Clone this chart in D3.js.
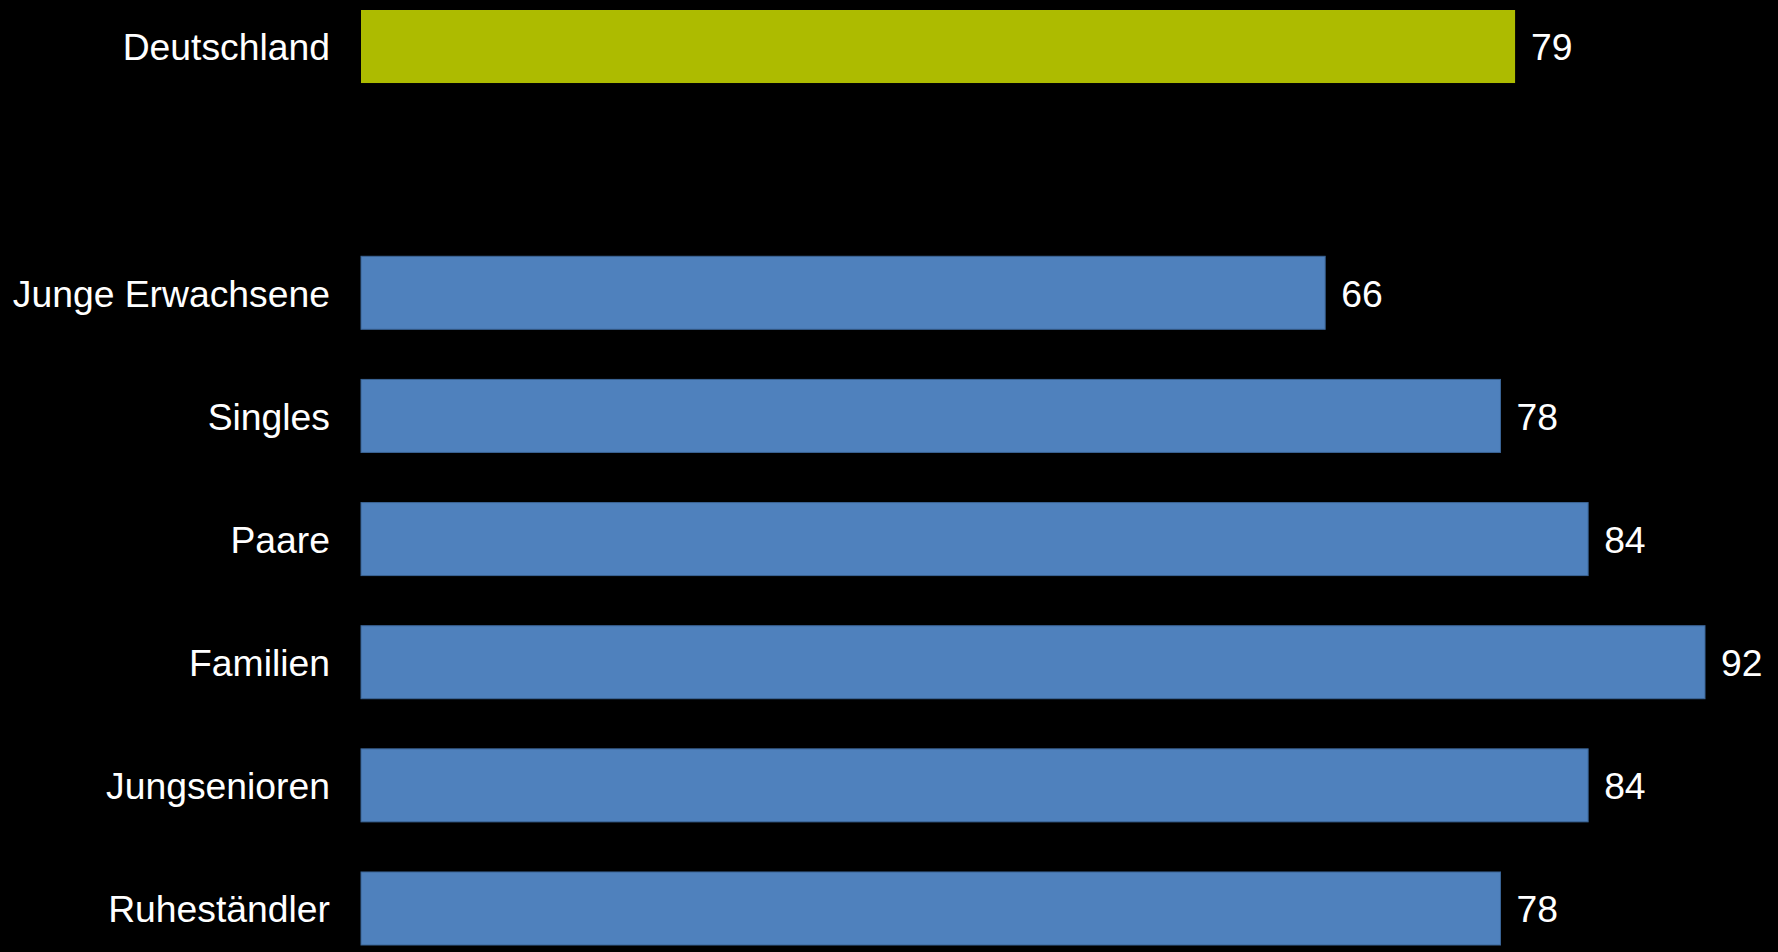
<!DOCTYPE html>
<html>
<head>
<meta charset="utf-8">
<script src="https://cdn.jsdelivr.net/npm/d3@7"></script>
<style>
    html, body { margin: 0; padding: 0; background: #000; }
    svg { display: block; }
</style>
</head>
<body>
<div id="chart"></div>
<script>
// categories, top to bottom; the empty one is the gap under Deutschland
const categories = ['Deutschland', '', 'Junge Erwachsene', 'Singles', 'Paare', 'Familien', 'Jungsenioren', 'Ruheständler'];
const values = [79, null, 66, 78, 84, 92, 84, 78];
const highlight = ['Deutschland'];

const width = 1778;
const height = 952;

const svg = d3.select('#chart')
    .append('svg')
    .attr('width', width)
    .attr('height', height)
    .style('background', '#000');

const x = d3.scaleLinear()
    .domain([0, 92])
    .range([361, 1705]);

const y = d3.scaleBand()
    .domain(categories)
    .range([10, 945])
    .paddingInner(0.407)
    .paddingOuter(0);

const rows = categories
    .map((c, i) => ({ name: c, value: values[i] }))
    .filter(d => d.value !== null);

// bars
svg.append('g')
    .selectAll('rect')
    .data(rows)
    .join('rect')
    .attr('x', x(0))
    .attr('y', d => y(d.name))
    .attr('width', d => x(d.value) - x(0))
    .attr('height', y.bandwidth())
    .attr('fill', d => highlight.includes(d.name) ? '#ADBB00' : '#4F81BD')
    .attr('stroke', d => highlight.includes(d.name) ? 'none' : '#3B6495')
    .attr('stroke-width', 1);

// category labels
svg.append('g')
    .selectAll('text')
    .data(rows)
    .join('text')
    .attr('x', 330)
    .attr('y', d => y(d.name) + y.bandwidth() / 2)
    .attr('dy', '0.37em')
    .attr('text-anchor', 'end')
    .attr('fill', '#fff')
    .style('font-family', 'Liberation Sans, Arial, sans-serif')
    .style('font-size', '37.3px')
    .text(d => d.name);

// value labels
svg.append('g')
    .selectAll('text')
    .data(rows)
    .join('text')
    .attr('x', d => x(d.value) + 16)
    .attr('y', d => y(d.name) + y.bandwidth() / 2)
    .attr('dy', '0.37em')
    .attr('fill', '#fff')
    .style('font-family', 'Liberation Sans, Arial, sans-serif')
    .style('font-size', '37.3px')
    .text(d => d.value);
</script>
</body>
</html>
